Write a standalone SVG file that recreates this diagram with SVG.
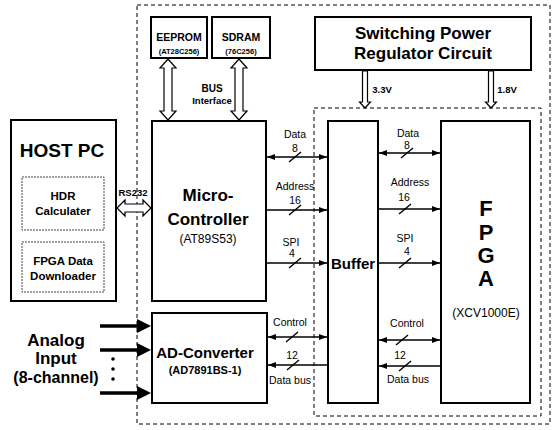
<svg xmlns="http://www.w3.org/2000/svg" width="560" height="430" viewBox="0 0 560 430">
<defs>
<marker id="ah" markerWidth="8" markerHeight="6" refX="8" refY="3" orient="auto-start-reverse" markerUnits="userSpaceOnUse">
<path d="M0,0 L8,3 L0,6 z" fill="#000"/>
</marker>
</defs>
<style>
text{font-family:"Liberation Sans",Arial,sans-serif;fill:#000;text-anchor:middle}
.box{fill:#fff;stroke:#000;stroke-width:2}
.sub{fill:#fff;stroke:#444;stroke-width:1;stroke-dasharray:2,1}
.dash{fill:none;stroke:#000;stroke-width:1;stroke-dasharray:4,3}
.hol{fill:#fff;stroke:#000;stroke-width:1.2}
.b{font-weight:bold}
.sig{stroke:#000;stroke-width:1.6;fill:none}
.sl{stroke:#000;stroke-width:1.4}
.lab{font-size:10.5px}
.ana{stroke:#000;stroke-width:3.5}
</style>
<rect width="560" height="430" fill="#fff"/>
<g id="boundaries">
<rect class="dash" x="137" y="5" width="413" height="419"/>
<rect class="dash" x="314" y="108" width="227" height="308"/>
</g>
<g id="host-pc">
<rect class="box" x="11" y="120" width="105" height="181"/>
<text class="b" x="62" y="157" font-size="19">HOST PC</text>
<rect class="sub" x="22" y="177" width="82" height="53"/>
<text class="b" x="63" y="200" font-size="11.5">HDR</text>
<text class="b" x="63" y="215" font-size="11.5">Calculater</text>
<rect class="sub" x="22" y="242" width="82" height="50"/>
<text class="b" x="63" y="265" font-size="11.5">FPGA Data</text>
<text class="b" x="63" y="280" font-size="11.5">Downloader</text>
</g>
<g id="eeprom">
<rect class="box" x="151" y="17" width="56" height="41"/>
<text class="b" x="179" y="41" font-size="10.5">EEPROM</text>
<text class="b" x="179" y="54" font-size="7.5">(AT28C256)</text>
</g>
<g id="sdram">
<rect class="box" x="212" y="17" width="58" height="41"/>
<text class="b" x="241" y="41" font-size="10.5">SDRAM</text>
<text class="b" x="241" y="54" font-size="7.5">(76C256)</text>
</g>
<g id="power">
<rect class="box" x="315" y="17" width="216" height="53"/>
<text class="b" x="423" y="39" font-size="17">Switching Power</text>
<text class="b" x="423" y="59" font-size="17">Regulator Circuit</text>
</g>
<g id="micro">
<rect class="box" x="152" y="121" width="114" height="180"/>
<text class="b" x="208" y="201" font-size="17">Micro-</text>
<text class="b" x="208" y="225" font-size="17">Controller</text>
<text x="208" y="243" font-size="12">(AT89S53)</text>
</g>
<g id="adc">
<rect class="box" x="152" y="313" width="115" height="90"/>
<text class="b" x="205" y="358" font-size="15">AD-Converter</text>
<text class="b" x="205" y="374" font-size="11">(AD7891BS-1)</text>
</g>
<g id="buffer">
<rect class="box" x="328" y="121" width="50" height="282"/>
<text class="b" x="353" y="269" font-size="15">Buffer</text>
</g>
<g id="fpga">
<rect class="box" x="441" y="121" width="89" height="282"/>
<text class="b" x="486" y="216" font-size="22">F</text>
<text class="b" x="486" y="240" font-size="22">P</text>
<text class="b" x="486" y="263" font-size="22">G</text>
<text class="b" x="486" y="286" font-size="22">A</text>
<text x="486" y="317" font-size="12">(XCV1000E)</text>
</g>
<g id="analog-input">
<text class="b" x="56" y="346" font-size="17">Analog</text>
<text class="b" x="56" y="364" font-size="17">Input</text>
<text class="b" x="56" y="383" font-size="16">(8-channel)</text>
<circle cx="113" cy="359" r="1.8"/>
<circle cx="113" cy="369" r="1.8"/>
<circle cx="113" cy="379" r="1.8"/>
</g>
<g id="connectors">
<polygon class="hol" points="168,59 176,68 172,68 172,111 176,111 168,120 160,111 164,111 164,68 160,68"/>
<polygon class="hol" points="239,59 247,68 243,68 243,111 247,111 239,120 231,111 235,111 235,68 231,68"/>
<text class="b" x="212" y="92" font-size="10">BUS</text>
<text class="b" x="212" y="104" font-size="9.5">Interface</text>
<polygon class="hol" points="117,208 125,200 125,204 143,204 143,200 151,208 143,216 143,212 125,212 125,216"/>
<text class="b" x="133" y="196" font-size="9.5">RS232</text>
<path class="hol" d="M362.5,71 H367.5 V102 H370.5 L365,108 L359.5,102 H362.5 Z"/>
<path class="hol" d="M488.5,71 H493.5 V102 H496.5 L491,108 L485.5,102 H488.5 Z"/>
<text class="b" x="382" y="93" font-size="9.5">3.3V</text>
<text class="b" x="507" y="93" font-size="9.5">1.8V</text>
<line class="ana" x1="100" y1="326" x2="139" y2="326"/>
<polygon points="137,319 151,326 137,333"/>
<line class="ana" x1="100" y1="350" x2="139" y2="350"/>
<polygon points="137,343 151,350 137,357"/>
<line class="ana" x1="100" y1="393" x2="139" y2="393"/>
<polygon points="137,386 151,393 137,400"/>
<line class="sig" x1="267" y1="157" x2="327" y2="157" marker-start="url(#ah)" marker-end="url(#ah)"/>
<line class="sl" x1="289" y1="162" x2="301" y2="152"/>
<text class="lab" x="295" y="138">Data</text>
<text class="lab" x="295" y="152">8</text>
<line class="sig" x1="267" y1="210" x2="327" y2="210" marker-end="url(#ah)"/>
<line class="sl" x1="289" y1="215" x2="301" y2="205"/>
<text class="lab" x="295" y="190">Address</text>
<text class="lab" x="295" y="204">16</text>
<line class="sig" x1="267" y1="263" x2="327" y2="263" marker-end="url(#ah)"/>
<line class="sl" x1="289" y1="268" x2="301" y2="258"/>
<text class="lab" x="291" y="246">SPI</text>
<text class="lab" x="292" y="257">4</text>
<line class="sig" x1="379" y1="153" x2="440" y2="153" marker-start="url(#ah)" marker-end="url(#ah)"/>
<line class="sl" x1="401" y1="158" x2="413" y2="148"/>
<text class="lab" x="408" y="137">Data</text>
<text class="lab" x="407" y="149">8</text>
<line class="sig" x1="379" y1="209" x2="440" y2="209" marker-end="url(#ah)"/>
<line class="sl" x1="399" y1="214" x2="411" y2="204"/>
<text class="lab" x="410" y="186">Address</text>
<text class="lab" x="404" y="201">16</text>
<line class="sig" x1="379" y1="263" x2="440" y2="263" marker-end="url(#ah)"/>
<line class="sl" x1="399" y1="268" x2="411" y2="258"/>
<text class="lab" x="405" y="242">SPI</text>
<text class="lab" x="407" y="255">4</text>
<line class="sig" x1="268" y1="337" x2="327" y2="337" marker-start="url(#ah)" marker-end="url(#ah)"/>
<line class="sl" x1="286" y1="342" x2="298" y2="332"/>
<text class="lab" x="290" y="326">Control</text>
<line class="sig" x1="327" y1="365" x2="268" y2="365" marker-end="url(#ah)"/>
<line class="sl" x1="287" y1="370" x2="299" y2="360"/>
<text class="lab" x="292" y="359">12</text>
<text class="lab" x="290" y="384">Data bus</text>
<line class="sig" x1="379" y1="340" x2="440" y2="340" marker-start="url(#ah)" marker-end="url(#ah)"/>
<line class="sl" x1="396" y1="345" x2="408" y2="335"/>
<text class="lab" x="407" y="327">Control</text>
<line class="sig" x1="440" y1="366" x2="379" y2="366" marker-end="url(#ah)"/>
<line class="sl" x1="399" y1="371" x2="411" y2="361"/>
<text class="lab" x="400" y="359">12</text>
<text class="lab" x="408" y="383">Data bus</text>
</g>
</svg>
